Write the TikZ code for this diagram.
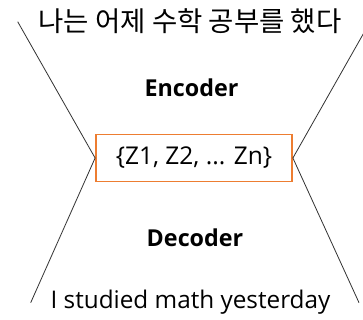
\documentclass[tikz,border=0pt]{standalone}
\usepackage{fontspec}
\setmainfont{Open Sans}
\newfontfamily\krfont{Noto Sans CJK KR}
\definecolor{boxorange}{RGB}{237,125,49}
\definecolor{linegrey}{RGB}{50,50,50}
\begin{document}
\begin{tikzpicture}[x=1pt,y=-1pt,
  txt/.style={inner sep=0pt, text=black},
  funnel/.style={draw=linegrey, line width=0.8pt},
  latent/.style={draw=boxorange, line width=1.8pt, minimum width=196pt, minimum height=47pt, inner sep=0pt, font=\fontsize{24.5}{28}\selectfont}]
\useasboundingbox (0,0) rectangle (363,320);
\fill[white] (0,0) rectangle (363,320);
\node[txt, font=\krfont\fontsize{27.5}{31}\selectfont] (kr) at (190,21) {나는 어제 수학 공부를 했다};
\node[txt, font=\bfseries\fontsize{23.3}{27}\selectfont] (enc) at (191.5,88) {Encoder};
\node[latent] (z) at (194,158) {\{Z1, Z2, ... Zn\}};
\node[txt, font=\bfseries\fontsize{23.3}{27}\selectfont] (dec) at (195,238) {Decoder};
\node[txt, font=\fontsize{24.3}{28}\selectfont] (en) at (190.5,302) {I studied math yesterday};
\coordinate (tl) at (17.7,21.7);
\coordinate (tr) at (370,22);
\coordinate (bl) at (30.7,302.7);
\coordinate (br) at (359,302.7);
\draw[funnel] (tl) -- (z.west) -- (bl);
\draw[funnel] (tr) -- (z.east) -- (br);
\end{tikzpicture}
\end{document}
